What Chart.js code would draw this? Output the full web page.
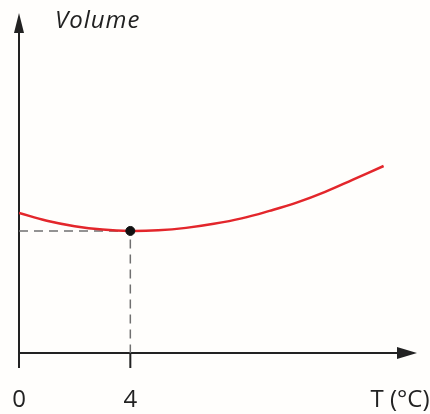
<!DOCTYPE html>
<html>
<head>
<meta charset="utf-8">
<script src="https://cdn.jsdelivr.net/npm/chart.js@4"></script>
<style>
  html, body { margin: 0; padding: 0; background: #fffefc; }
  #wrap { width: 430px; height: 414px; position: relative; }
</style>
</head>
<body>
<div id="wrap"><canvas id="chart"></canvas></div>
<script>
// Data (volume in arbitrary units)
const temps   = [0, 1, 2, 3, 4, 5, 6, 7, 8, 9, 10, 11, 12, 13.1];
const volumes = [41.2, 38.9, 37.3, 36.3, 35.9, 36.1, 36.8, 38.0, 39.6, 41.8, 44.3, 47.4, 51.0, 55.0];
const tickTemps  = [0, 4];
const tickLabels = ['0', '4'];
const minTemp = 4;
const minVolume = 35.9;

const axisColor = '#222';
const font = '"Open Sans", sans-serif';

// Axes with arrows, ticks and labels
const axesPlugin = {
    id: 'axes',
    beforeDatasetsDraw(chart) {
        const { ctx, chartArea: a, scales: { x, y } } = chart;
        const x0 = x.getPixelForValue(0);
        const y0 = y.getPixelForValue(0);
        ctx.save();
        ctx.strokeStyle = axisColor;
        ctx.fillStyle = axisColor;
        ctx.lineWidth = 2;

        // x axis
        ctx.beginPath();
        ctx.moveTo(x0, y0);
        ctx.lineTo(a.right - 14, y0);
        ctx.stroke();
        ctx.beginPath();
        ctx.moveTo(a.right, y0);
        ctx.lineTo(a.right - 20, y0 - 6);
        ctx.lineTo(a.right - 20, y0 + 6);
        ctx.closePath();
        ctx.fill();

        // y axis
        ctx.beginPath();
        ctx.moveTo(x0, y0 + 15);
        ctx.lineTo(x0, a.top + 14);
        ctx.stroke();
        ctx.beginPath();
        ctx.moveTo(x0, a.top);
        ctx.lineTo(x0 - 5, a.top + 20);
        ctx.lineTo(x0 + 5, a.top + 20);
        ctx.closePath();
        ctx.fill();

        // ticks + labels
        ctx.font = '24px ' + font;
        ctx.textAlign = 'center';
        ctx.textBaseline = 'middle';
        tickTemps.forEach((t, i) => {
            const px = x.getPixelForValue(t);
            ctx.beginPath();
            ctx.moveTo(px, y0);
            ctx.lineTo(px, y0 + 15);
            ctx.stroke();
            ctx.fillText(tickLabels[i], px, y0 + 47);
        });
        ctx.fillText('T (°C)', 400, y0 + 47);

        // y title
        ctx.font = 'italic 24px ' + font;
        ctx.letterSpacing = '1px';
        ctx.textAlign = 'left';
        ctx.fillText('Volume', 55, 21);
        ctx.restore();
    }
};

new Chart(document.getElementById('chart'), {
    type: 'line',
    data: {
        datasets: [
            {
                data: temps.map((t, i) => ({ x: t, y: volumes[i] })),
                borderColor: '#e3262b',
                borderWidth: 2.5,
                pointRadius: 0,
                tension: 0.4,
                order: 1
            },
            {
                data: [{ x: 0, y: minVolume }, { x: minTemp, y: minVolume }, { x: minTemp, y: 0 }],
                borderColor: '#707070',
                borderWidth: 1.5,
                borderDash: [9, 6],
                pointRadius: 0,
                tension: 0,
                order: 2
            },
            {
                data: [{ x: minTemp, y: minVolume }],
                backgroundColor: '#111',
                borderColor: '#111',
                pointRadius: 4.5,
                showLine: false,
                order: 0
            }
        ]
    },
    options: {
        responsive: true,
        maintainAspectRatio: false,
        animation: false,
        layout: { padding: { left: 19, right: 13, top: 13, bottom: 61 } },
        plugins: { legend: { display: false }, tooltip: { enabled: false } },
        scales: {
            x: { type: 'linear', min: 0, max: 14.3, display: false },
            y: { type: 'linear', min: 0, max: 100, display: false }
        }
    },
    plugins: [axesPlugin]
});
</script>
</body>
</html>
